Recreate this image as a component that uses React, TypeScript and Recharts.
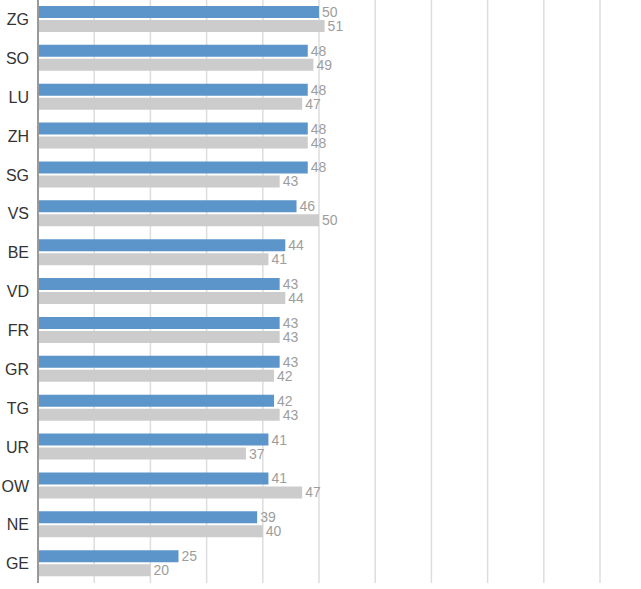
import { BarChart, Bar, XAxis, YAxis, CartesianGrid, LabelList } from 'recharts';

const cantons = ['ZG', 'SO', 'LU', 'ZH', 'SG', 'VS', 'BE', 'VD', 'FR', 'GR', 'TG', 'UR', 'OW', 'NE', 'GE'];
const current = [50, 48, 48, 48, 48, 46, 44, 43, 43, 43, 42, 41, 41, 39, 25];
const previous = [51, 49, 47, 48, 43, 50, 41, 44, 43, 42, 43, 37, 47, 40, 20];
const xTicks = [0, 10, 20, 30, 40, 50, 60, 70, 80, 90, 100];

const data = cantons.map((name, i) => ({ name, current: current[i], previous: previous[i] }));

const labelStyle = { fill: '#9d9d9d', fontSize: 14, fontFamily: 'Liberation Sans, Arial, sans-serif' };

export default function App() {
  return (
    <div style={{ position: 'absolute', left: 0, top: 0, background: '#fff' }}>
      <BarChart
        width={641}
        height={589}
        data={data}
        layout="vertical"
        margin={{ top: 0, right: 41, bottom: 6, left: 0 }}
        barSize={12}
        barGap={2}
      >
        <CartesianGrid horizontal={false} stroke="#dddddd" strokeWidth={1.5} />
        <XAxis type="number" domain={[0, 100]} ticks={xTicks} hide />
        <YAxis
          type="category"
          dataKey="name"
          width={38}
          tickLine={false}
          axisLine={{ stroke: '#999999', strokeWidth: 2 }}
          tickMargin={3}
          tick={{ fill: '#333333', fontSize: 16, fontFamily: 'Liberation Sans, Arial, sans-serif' }}
        />
        <Bar dataKey="current" fill="#5b95c9" isAnimationActive={false}>
          <LabelList dataKey="current" position="right" offset={3} style={labelStyle} />
        </Bar>
        <Bar dataKey="previous" fill="#cccccc" isAnimationActive={false}>
          <LabelList dataKey="previous" position="right" offset={3} style={labelStyle} />
        </Bar>
      </BarChart>
    </div>
  );
}
